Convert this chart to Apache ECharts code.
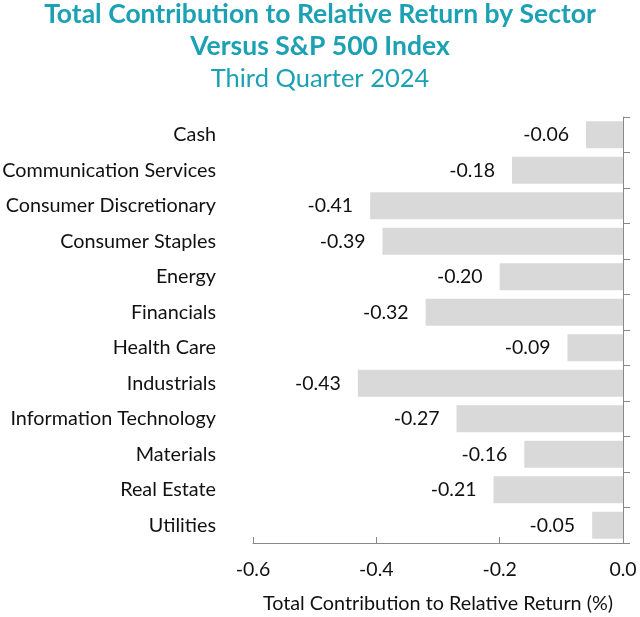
<!DOCTYPE html>
<html>
<head>
<meta charset="utf-8">
<script src="https://cdn.jsdelivr.net/npm/echarts@6/dist/echarts.min.js"></script>
<style>html,body{margin:0;padding:0;background:#fff}#c{width:640px;height:617px}</style>
</head>
<body>
<div id="c"></div>
<script>
const categories = ["Cash","Communication Services","Consumer Discretionary","Consumer Staples","Energy","Financials","Health Care","Industrials","Information Technology","Materials","Real Estate","Utilities"];
const values = [-0.06,-0.18,-0.41,-0.39,-0.20,-0.32,-0.09,-0.43,-0.27,-0.16,-0.21,-0.05];
const xTicks = [-0.6,-0.4,-0.2,0.0];
const titleLines = ["Total Contribution to Relative Return by Sector","Versus S&P 500 Index"];
const subtitle = "Third Quarter 2024";
const axisName = "Total Contribution to Relative Return (%)";

const FONT = "Lato";
const teal = "#1BA1B3";
const chart = echarts.init(document.getElementById('c'));
chart.setOption({
  animation:false,
  textStyle:{fontFamily:FONT},
  title:[
    {text:titleLines.join('\n'),left:'center',top:-2,padding:0,textStyle:{fontFamily:FONT,fontSize:26.5,fontWeight:'bold',color:teal,lineHeight:32}},
    {text:subtitle,left:'center',top:64,padding:0,textStyle:{fontFamily:FONT,fontSize:25.5,fontWeight:'normal',color:teal,lineHeight:30}}
  ],
  grid:{left:253,right:17,top:117,bottom:74,containLabel:false,outerBoundsMode:'none'},
  xAxis:{type:'value',min:-0.6,max:0,interval:0.2,
    axisLine:{show:true,lineStyle:{color:'#888',width:1}},
    axisTick:{show:true,inside:true,length:6,lineStyle:{color:'#888'}},
    splitLine:{show:false},
    axisLabel:{color:'#111',fontSize:19.5,margin:17,fontFamily:FONT,formatter:v=>v.toFixed(1)},
    name:axisName,nameLocation:'middle',nameGap:51,nameTextStyle:{color:'#111',fontSize:19.8,fontFamily:FONT}
  },
  yAxis:[
    {type:'category',data:categories,inverse:true,position:'left',
      axisLine:{show:false},axisTick:{show:false},
      axisLabel:{color:'#111',fontSize:19.8,margin:37,fontFamily:FONT}},
    {type:'category',data:categories,inverse:true,position:'right',
      axisLine:{show:true,onZero:false,lineStyle:{color:'#888'}},
      axisTick:{show:true,inside:false,length:7,lineStyle:{color:'#888'}},
      axisLabel:{show:false}}
  ],
  series:[{type:'bar',data:values,yAxisIndex:0,barCategoryGap:'24%',
    itemStyle:{color:'#D9D9D9'},
    label:{show:true,position:'left',distance:17,color:'#111',fontSize:19.5,fontFamily:FONT,formatter:p=>p.value.toFixed(2)}
  }]
});
</script>
</body>
</html>
